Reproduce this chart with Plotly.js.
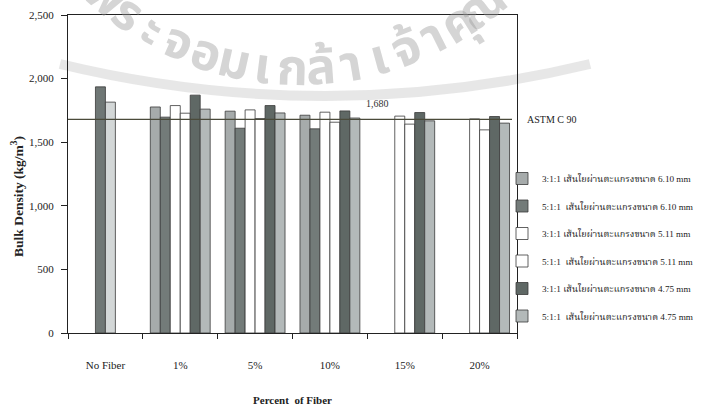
<!DOCTYPE html>
<html><head><meta charset="utf-8">
<script src="https://cdn.plot.ly/plotly-3.0.1.min.js"></script>
<style>html,body{margin:0;padding:0;background:#fff}</style>
</head><body><div id="chart" style="width:703px;height:409px"></div>
<script>
// ---- data ----
const categories = ["No Fiber", "1%", "5%", "10%", "15%", "20%"];
const seriesNames = [
  "3:1:1 เส้นใยผ่านตะแกรงขนาด 6.10 mm",
  "5:1:1  เส้นใยผ่านตะแกรงขนาด 6.10 mm",
  "3:1:1 เส้นใยผ่านตะแกรงขนาด 5.11 mm",
  "5:1:1  เส้นใยผ่านตะแกรงขนาด 5.11 mm",
  "3:1:1 เส้นใยผ่านตะแกรงขนาด 4.75 mm",
  "5:1:1  เส้นใยผ่านตะแกรงขนาด 4.75 mm"
];
const mix311_610 = [null, 1777, 1744, 1712, null, null];
const mix511_610 = [null, 1697, 1610, 1605, null, null];
const mix311_511 = [null, 1788, 1754, 1736, 1705, 1683];
const mix511_511 = [null, 1728, 1686, 1657, 1642, 1597];
const mix311_475 = [null, 1870, 1788, 1746, 1733, 1702];
const mix511_475 = [null, 1760, 1730, 1690, 1668, 1650];
// control mixes (No Fiber), drawn in the 3rd and 4th bar slots
const noFiberA = [1935, null, null, null, null, null];
const noFiberB = [1815, null, null, null, null, null];
const astmValue = 1680;
const astmLabel = "ASTM C 90";
const astmValueLabel = "1,680";
const yTickValues = [0, 500, 1000, 1500, 2000, 2500];
const yTickLabels = ["0", "500", "1,000", "1,500", "2,000", "2,500"];
const watermarkText = ["พ","ร","ะ","จ","อ","ม","เ","ก","ล้","า","เ","จ้","า","คุ","ณ"];

// ---- styles ----
const serif = "Liberation Serif, Times New Roman, Noto Serif Thai, Noto Sans Thai, serif";
const plotL = 68, plotR = 517, plotT = 15, plotB = 333;
const W = plotR - plotL, H = plotB - plotT;
const seriesColors = ["#a6abab", "#737b79", "#ffffff", "#ffffff", "#5f6865", "#b3b9b9"];
const allSeries = [mix311_610, mix511_610, mix311_511, mix511_511, mix311_475, mix511_475];
const barLine = {color: "#3a3a3a", width: 0.8};

const traces = allSeries.map((vals, i) => ({
  type: "bar", x: categories, y: vals, name: seriesNames[i],
  offsetgroup: "o" + i, legendgroup: "g" + i,
  marker: {color: seriesColors[i], line: barLine},
  hoverinfo: "skip"
}));
traces.push(
  {type: "bar", x: categories, y: noFiberA, name: "No Fiber A", showlegend: false,
   offsetgroup: "o2", marker: {color: "#6f7775", line: barLine}, hoverinfo: "skip"},
  {type: "bar", x: categories, y: noFiberB, name: "No Fiber B", showlegend: false,
   offsetgroup: "o3", marker: {color: "#d3d7d7", line: barLine}, hoverinfo: "skip"}
);

// watermark along an arc (decoration)
const cx = 300, cy = -230, R = 300, dTheta = 5.6;
const annotations = watermarkText.map((ch, k) => {
  const th = (k - 7) * dTheta - 1.5;
  const r = th * Math.PI / 180;
  const px = cx + R * Math.sin(r), py = cy + R * Math.cos(r);
  return {
    text: ch, xref: "paper", yref: "paper",
    x: (px - plotL) / W, y: (plotB - py) / H, xanchor: "center", yanchor: "middle",
    showarrow: false, textangle: -th,
    font: {family: "Noto Sans Thai, Noto Serif Thai, Loma, sans-serif", size: 50, weight: "bold",
           color: "rgba(150,150,150,0.4)"}
  };
});

annotations.push(
  {text: astmLabel, xref: "paper", yref: "y", x: (525 - plotL) / W, y: astmValue, xanchor: "left", yanchor: "middle",
   showarrow: false, font: {family: serif, size: 10, color: "#222"}},
  {text: astmValueLabel, xref: "paper", yref: "y", x: (377 - plotL) / W, y: astmValue,
   xanchor: "center", yanchor: "bottom", yshift: 8,
   showarrow: false, font: {family: serif, size: 10, color: "#333"}},
  {text: "<b>Bulk Density (kg/m<sup>3</sup>)</b>", xref: "paper", yref: "paper", x: (17 - plotL) / W, y: (plotB - 197) / H,
   xanchor: "center", yanchor: "middle",
   textangle: -90, showarrow: false, font: {family: serif, size: 13.5, color: "#222"}}
);

const layout = {
  width: 703, height: 409,
  margin: {l: plotL, r: 703 - plotR, t: plotT, b: 409 - plotB, autoexpand: false},
  paper_bgcolor: "#fff", plot_bgcolor: "rgba(0,0,0,0)",
  font: {family: serif, size: 11, color: "#222"},
  barmode: "group", bargap: 0.2, bargroupgap: 0,
  showlegend: true,
  legend: {x: (502 - plotL) / W, xanchor: "left", y: (plotB - 164) / H, yanchor: "top", traceorder: "grouped",
           tracegroupgap: 8.5, font: {family: serif, size: 9.2, color: "#222"}, bgcolor: "rgba(0,0,0,0)"},
  xaxis: {
    type: "category", showline: true, linecolor: "#222", linewidth: 1, mirror: true,
    ticks: "outside", tickson: "boundaries", ticklen: 5, tickcolor: "#222",
    ticklabelstandoff: 22, showgrid: false, zeroline: false,
    tickfont: {family: serif, size: 11, color: "#222"},
    title: {text: "<b>Percent  of Fiber</b>", standoff: 26, font: {family: serif, size: 11, color: "#222"}}
  },
  yaxis: {
    range: [0, 2500], tickvals: yTickValues, ticktext: yTickLabels,
    showline: true, linecolor: "#222", linewidth: 1, mirror: true,
    ticks: "outside", ticklen: 6, tickcolor: "#222", ticklabelstandoff: 5,
    showgrid: false, zeroline: false,
    tickfont: {family: serif, size: 11, color: "#222"}
  },
  shapes: [
    {type: "line", xref: "paper", yref: "y", x0: 0, x1: (512 - plotL) / W, y0: astmValue, y1: astmValue,
     line: {color: "#4a4a3a", width: 1.3}},
    {type: "path", xref: "paper", yref: "paper", layer: "below",
     path: "M " + ((60 - plotL) / W) + "," + ((plotB - 64) / H) +
           " Q " + ((325 - plotL) / W) + "," + ((plotB - 128) / H) +
           " " + ((590 - plotL) / W) + "," + ((plotB - 64) / H),
     line: {color: "rgba(175,175,175,0.3)", width: 10}}
  ],
  annotations: annotations
};

Plotly.newPlot("chart", traces, layout, {displayModeBar: false, staticPlot: true});
</script>
</body></html>
